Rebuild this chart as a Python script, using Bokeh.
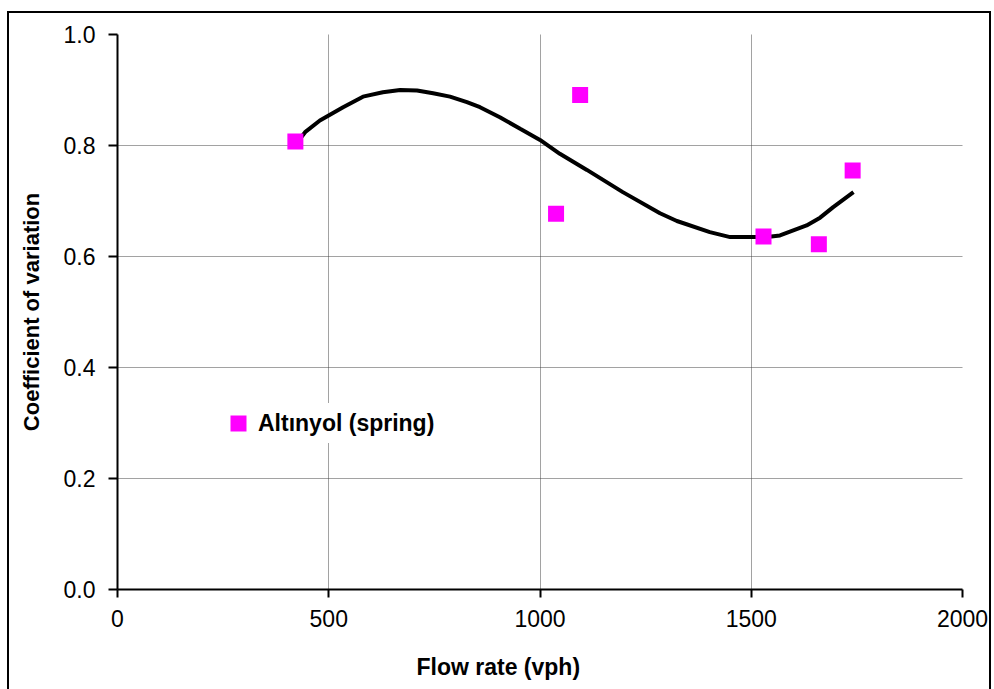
from bokeh.plotting import figure
from bokeh.models import (Range1d, FixedTicker, NumeralTickFormatter, Legend, LegendItem,
                          Title)
from bokeh.embed import file_html
from bokeh.resources import INLINE

# ---- data ----
flow = [421, 1038, 1095, 1529, 1660, 1740]
cv = [0.807, 0.677, 0.891, 0.636, 0.622, 0.755]

trend_x = [424, 444, 479, 534, 581, 628, 669, 709, 747, 787, 827, 858, 905, 953, 1000,
           1047, 1111, 1196, 1284, 1324, 1402, 1450, 1537, 1568, 1631, 1663, 1694, 1742]
trend_y = [0.804, 0.824, 0.845, 0.869, 0.888, 0.896, 0.900, 0.899, 0.894, 0.888, 0.878,
           0.869, 0.851, 0.830, 0.810, 0.785, 0.756, 0.716, 0.678, 0.664, 0.644, 0.635,
           0.635, 0.638, 0.656, 0.670, 0.689, 0.716]

x_ticks = [0, 500, 1000, 1500, 2000]
y_ticks = [0.0, 0.2, 0.4, 0.6, 0.8, 1.0]

series_name = "Altınyol (spring)"
x_title = "Flow rate (vph)"
y_title = "Coefficient of variation"

FONT = "Liberation Sans"

p = figure(width=980, height=680, output_backend="svg", toolbar_location=None,
           x_range=Range1d(0, 2000), y_range=Range1d(0, 1.0),
           frame_width=845, frame_height=555,
           min_border_left=108, min_border_right=27, min_border_top=21, min_border_bottom=10,
           styles={"margin-left": "7px", "margin-top": "11px",
                   "border": "2px solid black"})
p.outline_line_color = None
p.background_fill_color = "white"
p.border_fill_color = "white"

# grids
for g in (p.xgrid, p.ygrid):
    g.grid_line_color = "#444444"
    g.grid_line_dash = "1 1"
    g.grid_line_width = 1
p.xgrid.ticker = FixedTicker(ticks=x_ticks)
p.ygrid.ticker = FixedTicker(ticks=y_ticks)

# axes
p.xaxis.ticker = FixedTicker(ticks=x_ticks)
p.yaxis.ticker = FixedTicker(ticks=y_ticks)
p.yaxis.formatter = NumeralTickFormatter(format="0.0")
for ax in (p.xaxis[0], p.yaxis[0]):
    ax.axis_line_color = "black"
    ax.axis_line_width = 2
    ax.major_tick_line_color = "black"
    ax.major_tick_line_width = 2
    ax.major_tick_in = 0
    ax.minor_tick_line_color = None
    ax.major_label_text_font = FONT
    ax.major_label_text_font_size = "23px"
    ax.major_label_text_color = "black"
p.xaxis.major_tick_out = 8
p.yaxis.major_tick_out = 9
p.xaxis.major_label_standoff = 12
p.yaxis.major_label_standoff = 13

p.yaxis.axis_label = y_title
p.yaxis.axis_label_text_font = FONT
p.yaxis.axis_label_text_font_size = "22px"
p.yaxis.axis_label_text_font_style = "bold"
p.yaxis.axis_label_text_color = "black"
p.yaxis.axis_label_standoff = 17

# x-axis title (placed left of centre as in the reference)
p.add_layout(Title(text=x_title, align="left", offset=299, standoff=44,
                   text_font=FONT, text_font_size="23px", text_font_style="bold",
                   text_color="black"), "below")

# trend line
p.line(trend_x, trend_y, line_color="black", line_width=4)

# points
pts = p.scatter(flow, cv, marker="square", size=16, fill_color="#FF00FF",
                line_color="#FF00FF", line_width=0)

legend = Legend(items=[LegendItem(label=series_name, renderers=[pts])],
                location=(101, 146), orientation="vertical",
                glyph_width=40, glyph_height=40, label_standoff=-14,
                padding=5, margin=0, spacing=0,
                border_line_color=None, background_fill_color="white",
                background_fill_alpha=1.0,
                label_text_font=FONT, label_text_font_size="23px",
                label_text_font_style="bold", label_text_color="black")
p.add_layout(legend, "center")

open("out.html", "w").write(file_html(p, INLINE))
